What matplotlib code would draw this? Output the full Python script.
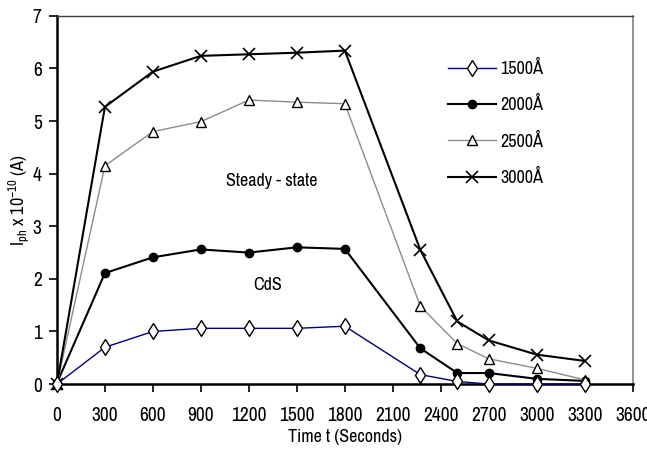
import matplotlib
matplotlib.use('Agg')
import matplotlib.pyplot as plt

plt.rcParams['font.family'] = ['Archivo Narrow', 'Liberation Sans', 'DejaVu Sans']
plt.rcParams['mathtext.fontset'] = 'custom'
plt.rcParams['mathtext.rm'] = 'Archivo Narrow'

# time in seconds
t = [0, 300, 600, 900, 1200, 1500, 1800, 2272, 2503, 2700, 3000, 3300]

# photocurrent x 1e-10 A for each wavelength
i_1500 = [0.0, 0.70, 1.00, 1.06, 1.06, 1.06, 1.10, 0.18, 0.05, 0.0, 0.0, 0.0]
i_2000 = [0.02, 2.11, 2.41, 2.56, 2.50, 2.60, 2.57, 0.68, 0.21, 0.21, 0.10, 0.06]
i_2500 = [0.0, 4.15, 4.80, 4.99, 5.40, 5.36, 5.33, 1.48, 0.77, 0.48, 0.30, 0.08]
i_3000 = [0.0, 5.27, 5.94, 6.24, 6.27, 6.30, 6.34, 2.55, 1.19, 0.83, 0.56, 0.44]

labels = ['1500Å', '2000Å', '2500Å', '3000Å']
xticks = list(range(0, 3601, 300))

fig = plt.figure(figsize=(6.47, 4.54), dpi=100)
ax = fig.add_axes([0.088, 0.154, 0.89, 0.811])

ax.plot(t, i_1500, color='#000080', lw=1.0, marker='d', ms=8,
        mfc='white', mec='black', mew=1.0, label=labels[0], clip_on=False, zorder=4)
ax.plot(t, i_2000, color='black', lw=1.5, marker='o', ms=6,
        mfc='black', mec='black', label=labels[1], clip_on=False, zorder=3)
ax.plot(t, i_2500, color='#8c8c8c', lw=1.0, marker='^', ms=7,
        mfc='white', mec='black', mew=1.0, label=labels[2], clip_on=False, zorder=3)
ax.plot(t, i_3000, color='black', lw=1.5, marker='x', ms=8,
        mec='black', mew=1.2, label=labels[3], clip_on=False, zorder=3)

ax.set_xlim(0, 3600)
ax.set_ylim(0, 7)
ax.set_xticks(xticks)
ax.set_yticks(range(0, 8))
ax.tick_params(labelsize=14, length=6, width=1.2, direction='out')
ax.tick_params(axis='x', pad=10)
ax.tick_params(axis='y', pad=5)

for side in ['left', 'bottom']:
    ax.spines[side].set_linewidth(1.8)
    ax.spines[side].set_color('black')
ax.spines['top'].set_color('#404040')
ax.spines['right'].set_color('#808080')
ax.spines['top'].set_linewidth(1.0)
ax.spines['right'].set_linewidth(1.2)

ax.set_xlabel('Time t (Seconds)', fontsize=13, labelpad=3)
ax.set_ylabel(r'I$_\mathregular{ph}$ x 10$^\mathregular{-10}$ (A)', fontsize=13, va='center')
ax.yaxis.set_label_coords(-0.066, 0.5)

ax.text(1340, 3.87, 'Steady - state', fontsize=13, ha='center', va='center')
ax.text(1320, 1.89, 'CdS', fontsize=13, ha='center', va='center')

ax.legend(loc='upper left', bbox_to_anchor=(0.663, 0.905), frameon=False,
          fontsize=13, handlelength=2.7, handletextpad=0.2, labelspacing=1.07,
          borderpad=0)

fig.savefig('out.png', dpi=100)
